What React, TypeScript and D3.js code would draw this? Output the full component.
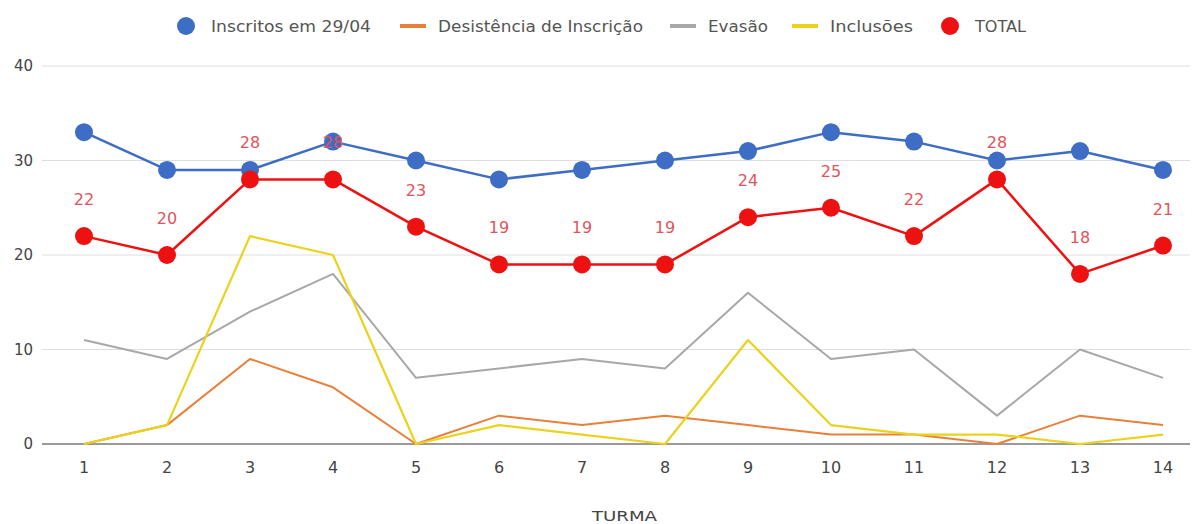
import { useEffect, useRef } from 'react'
import * as d3 from 'd3'

const turmas = ['1', '2', '3', '4', '5', '6', '7', '8', '9', '10', '11', '12', '13', '14']
const inscritos = [33, 29, 29, 32, 30, 28, 29, 30, 31, 33, 32, 30, 31, 29]
const desistencia = [0, 2, 9, 6, 0, 3, 2, 3, 2, 1, 1, 0, 3, 2]
const evasao = [11, 9, 14, 18, 7, 8, 9, 8, 16, 9, 10, 3, 10, 7]
const inclusoes = [0, 2, 22, 20, 0, 2, 1, 0, 11, 2, 1, 1, 0, 1]
const total = [22, 20, 28, 28, 23, 19, 19, 19, 24, 25, 22, 28, 18, 21]
const yTicks = [0, 10, 20, 30, 40]

const W = 1194, H = 524
const FONT = '"DejaVu Sans", Verdana, sans-serif'

const series = [
  { name: 'Desistência de Inscrição', values: desistencia, color: '#e8803a', width: 2, dots: false },
  { name: 'Evasão', values: evasao, color: '#a8a8a8', width: 2, dots: false },
  { name: 'Inclusões', values: inclusoes, color: '#ecd21c', width: 2.2, dots: false },
  { name: 'Inscritos em 29/04', values: inscritos, color: '#3e6dc5', width: 2.5, dots: true },
  { name: 'TOTAL', values: total, color: '#ee1111', width: 2.5, dots: true },
]

// legend marker x, text width
const legend = [
  { name: 'Inscritos em 29/04', color: '#3e6dc5', dot: true, x: 186, w: 160 },
  { name: 'Desistência de Inscrição', color: '#e8803a', dot: false, x: 413, w: 205 },
  { name: 'Evasão', color: '#a8a8a8', dot: false, x: 683, w: 60 },
  { name: 'Inclusões', color: '#ecd21c', dot: false, x: 805, w: 83 },
  { name: 'TOTAL', color: '#ee1111', dot: true, x: 950, w: 51 },
]

export default function App() {
  const svgRef = useRef<SVGSVGElement>(null)

  useEffect(() => {
    const svg = d3.select(svgRef.current)
    svg.selectAll('*').remove()

    const x = d3.scalePoint<string>().domain(turmas).range([84, 1163])
    const y = d3.scaleLinear().domain([0, 40]).range([444, 66])

    // grid + y labels
    const g = svg.append('g')
    yTicks.forEach((t) => {
      g.append('line')
        .attr('x1', 42).attr('x2', 1190)
        .attr('y1', y(t)).attr('y2', y(t))
        .attr('stroke', t === 0 ? '#9a9a9a' : '#dedede')
        .attr('stroke-width', t === 0 ? 2 : 1)
      g.append('text')
        .attr('x', 33).attr('y', y(t) + 5)
        .attr('text-anchor', 'end')
        .attr('font-size', 15).attr('fill', '#444')
        .attr('font-family', FONT)
        .text(t)
    })

    turmas.forEach((t) => {
      g.append('text')
        .attr('x', x(t)!).attr('y', 473)
        .attr('text-anchor', 'middle')
        .attr('font-size', 16).attr('fill', '#444')
        .attr('font-family', FONT)
        .text(t)
    })

    svg.append('text')
      .attr('x', 592).attr('y', 521)
      .attr('font-size', 14).attr('fill', '#444')
      .attr('font-family', FONT)
      .attr('textLength', 65).attr('lengthAdjust', 'spacingAndGlyphs')
      .text('TURMA')

    const line = d3.line<number>()
      .x((_, i) => x(turmas[i])!)
      .y((d) => y(d))

    series.forEach((s) => {
      svg.append('path')
        .datum(s.values)
        .attr('d', line)
        .attr('fill', 'none')
        .attr('stroke', s.color)
        .attr('stroke-width', s.width)
        .attr('stroke-linejoin', 'round')
      if (s.dots) {
        svg.append('g').selectAll('circle')
          .data(s.values)
          .join('circle')
          .attr('cx', (_, i) => x(turmas[i])!)
          .attr('cy', (d) => y(d))
          .attr('r', 9)
          .attr('fill', s.color)
      }
    })

    // data labels for TOTAL
    svg.append('g').selectAll('text')
      .data(total)
      .join('text')
      .attr('x', (_, i) => x(turmas[i])!)
      .attr('y', (d) => y(d) - 31)
      .attr('text-anchor', 'middle')
      .attr('font-size', 16).attr('fill', '#e2545a')
      .attr('font-family', FONT)
      .text((d) => d)

    // legend
    const lg = svg.append('g')
    legend.forEach((l) => {
      if (l.dot) {
        lg.append('circle').attr('cx', l.x).attr('cy', 26).attr('r', 9).attr('fill', l.color)
      } else {
        lg.append('rect').attr('x', l.x - 13).attr('y', 24).attr('width', 26).attr('height', 4).attr('fill', l.color)
      }
      lg.append('text')
        .attr('x', l.x + (l.dot ? 25 : 25)).attr('y', 32)
        .attr('font-size', 15).attr('fill', '#555')
        .attr('font-family', FONT)
        .attr('textLength', l.w).attr('lengthAdjust', 'spacingAndGlyphs')
        .text(l.name)
    })
  }, [])

  return (
    <svg ref={svgRef} width={W} height={H} viewBox={`0 0 ${W} ${H}`}
      style={{ position: 'absolute', left: 0, top: 0, background: '#fff' }} />
  )
}
